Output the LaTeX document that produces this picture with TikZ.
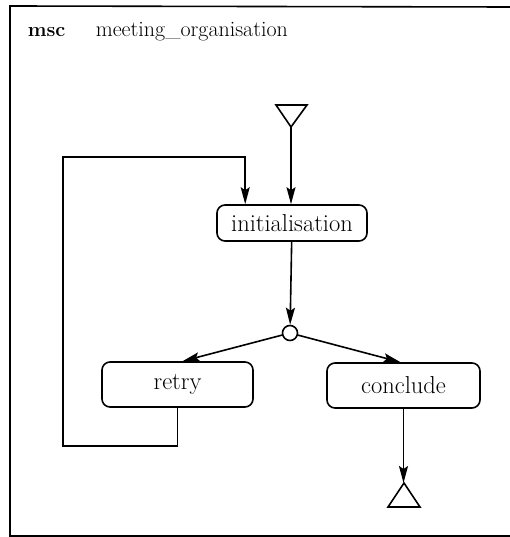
\documentclass[tikz,border=0pt]{standalone}
\usetikzlibrary{arrows.meta,calc}
\begin{document}
\begin{tikzpicture}[x=1pt,y=-1pt,
  line width=1.6pt,
  box/.style={draw,rounded corners=8pt,minimum height=45pt,inner sep=0pt,
    font=\fontsize{24.5}{28}\selectfont},
  arr/.style={-{Stealth[length=17pt,width=9pt,inset=3pt]}},
  title/.style={anchor=base west,inner sep=0pt}]
\useasboundingbox (0,0) rectangle (510,537);
% frame
\draw (510,7) -- (10,6) -- (10,536) -- (510,536);
\node[title,font=\fontsize{20}{24}\selectfont\bfseries] (msc) at (27,37) {msc};
\node[title,font=\fontsize{22}{26}\selectfont] (name) at (95,37) {meeting\_organisation};
% nodes
\node[box,minimum width=150pt,minimum height=36pt] (init) at (292,223) {initialisation};
\node[draw,circle,minimum size=15pt,inner sep=0pt] (c) at (290,333) {};
\node[box,minimum width=151pt] (retry) at (177.5,384.5) {retry};
\node[box,minimum width=153pt] (concl) at (403.5,385.5) {conclude};
% start triangle
\coordinate (s) at (291,127);
\draw (s) -- (276,105) -- (307,105) -- cycle;
% end triangle
\coordinate (e) at (404,483);
\draw (e) -- (388,507) -- (420,507) -- cycle;
% connectors
\draw[arr] (s) -- (s |- init.north);
\draw[arr] (init) -- (c);
\draw[arr] (c) -- ($(retry.north)+(5,0)$);
\draw[arr] (c) -- ($(concl.north)+(-3,0)$);
\draw[arr] (concl.south) -- (concl.south |- e);
\coordinate (lb) at (63,446);
\coordinate (lt) at (63,157);
\draw[arr] (retry.south) |- (lb) -- (lt) -| ($(init.north west)+(29,0)$);
\end{tikzpicture}
\end{document}
